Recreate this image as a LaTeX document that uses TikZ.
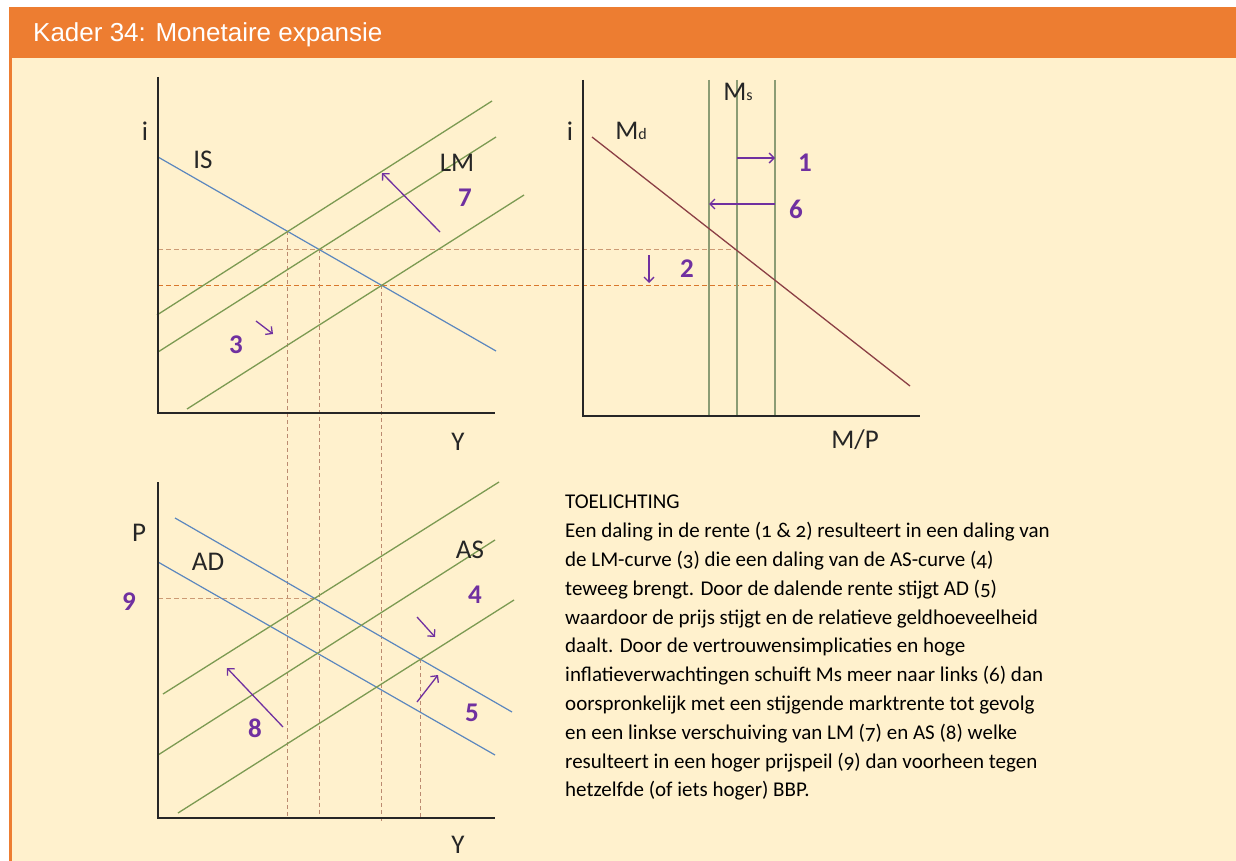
\documentclass[tikz,border=0pt]{standalone}
\usepackage{fontspec}
\setmainfont{Carlito}
\newfontfamily\titlefont{Liberation Sans}
\newfontfamily\bodyfont[Numbers=OldStyle]{Carlito}
\usetikzlibrary{arrows.meta}
\definecolor{hdr}{HTML}{ED7D31}
\definecolor{cream}{HTML}{FFF1CD}
\definecolor{purp}{HTML}{7030A0}
\definecolor{bluel}{HTML}{5B87BE}
\definecolor{greenl}{HTML}{7C9A52}
\definecolor{msl}{HTML}{8C9C74}
\definecolor{mdl}{HTML}{8B3F45}
\definecolor{dashA}{HTML}{CC9A74}
\definecolor{dashB}{HTML}{D9772C}
\definecolor{dashV}{HTML}{BB8A70}
\definecolor{axc}{HTML}{262626}
\tikzset{
  axis/.style={draw=axc, line width=1.8pt},
  isline/.style={draw=bluel, line width=1.2pt},
  lmline/.style={draw=greenl, line width=1.3pt},
  msline/.style={draw=msl, line width=1.3pt},
  mdline/.style={draw=mdl, line width=1.3pt},
  dashh/.style={draw=dashA, line width=1.3pt, dash pattern=on 5pt off 3pt},
  dashh2/.style={draw=dashB, line width=1.5pt, dash pattern=on 5pt off 3pt},
  dashv/.style={draw=dashV, line width=1.2pt, dash pattern=on 4pt off 3pt},
  parrow/.style={draw=purp, line width=1.3pt, -{Straight Barb[length=5pt,width=10pt]}},
  lbl/.style={font=\fontsize{27}{27}\selectfont, text=axc, inner sep=0pt},
  num/.style={font=\fontsize{27}{27}\selectfont\bfseries, text=purp, inner sep=0pt},
}
\begin{document}
\begin{tikzpicture}[x=1pt,y=-1pt]
\useasboundingbox (0,0) rectangle (1236,861);
% frame
\fill[white] (0,0) rectangle (1236,861);
\fill[cream] (9,58) rectangle (1236,861);
\fill[hdr] (9,7) rectangle (1236,58);
\fill[hdr] (9,58) rectangle (12,861);
\node[anchor=west, inner sep=0pt, text=white, font=\titlefont\fontsize{26}{26}\selectfont] (title) at (33,35) {Kader 34: Monetaire expansie};

% ---------- top-left IS-LM ----------
\coordinate (ao1) at (158,413);
\coordinate (ay1) at (158,77);
\coordinate (ax1) at (495,413);
\coordinate (isA) at (158,157);  \coordinate (isB) at (496,351);
\coordinate (lm1A) at (157,315); \coordinate (lm1B) at (492,101);
\coordinate (lm2A) at (158,352); \coordinate (lm2B) at (496,137);
\coordinate (lm3A) at (187,409); \coordinate (lm3B) at (524,195);
\coordinate (e1) at (intersection of isA--isB and lm1A--lm1B);
\coordinate (e2) at (intersection of isA--isB and lm2A--lm2B);
\coordinate (e3) at (intersection of isA--isB and lm3A--lm3B);

% ---------- top-right money market ----------
\coordinate (ao2) at (583,416);
\coordinate (ay2) at (583,80);
\coordinate (ax2) at (920,416);
\coordinate (ms1T) at (709,80); \coordinate (ms1B) at (709,416);
\coordinate (ms2T) at (737,80); \coordinate (ms2B) at (737,416);
\coordinate (ms3T) at (775,80); \coordinate (ms3B) at (775,416);
\coordinate (mdA) at (592,137); \coordinate (mdB) at (910,386);

% ---------- bottom AD-AS ----------
\coordinate (ao3) at (158,818);
\coordinate (ay3) at (158,482);
\coordinate (ax3) at (495,818);
\coordinate (ad1A) at (175,518); \coordinate (ad1B) at (512,712);
\coordinate (ad0A) at (158,562); \coordinate (ad0B) at (495,755);
\coordinate (as1A) at (163,694); \coordinate (as1B) at (499,482);
\coordinate (as2A) at (158,755); \coordinate (as2B) at (495,540);
\coordinate (as3A) at (178,813); \coordinate (as3B) at (514,600);
\coordinate (f9) at (intersection of ad1A--ad1B and as1A--as1B);
\coordinate (f5) at (intersection of ad1A--ad1B and as3A--as3B);

% dashed guide lines
\draw[dashh] (ay1 |- e2) -- (ms2T |- e2);
\draw[dashh2] (ay1 |- e3) -- (ms3T |- e3);
\draw[dashv] (e1) -- (e1 |- ao3);
\draw[dashv] (e2) -- (e2 |- ao3);
\draw[dashv] (e3) -- ([yshift=-6pt]e3 |- ao3);
\draw[dashv] (f5) -- (f5 |- ao3);
\draw[dashh] (ay3 |- f9) -- (f9);

% curves top-left
\draw[isline] (isA) -- (isB);
\draw[lmline] (lm1A) -- (lm1B);
\draw[lmline] (lm2A) -- (lm2B);
\draw[lmline] (lm3A) -- (lm3B);
\draw[axis] (ay1) -- (ao1) -- (ax1);

% curves top-right
\draw[msline] (ms1T) -- (ms1B);
\draw[msline] (ms2T) -- (ms2B);
\draw[msline] (ms3T) -- (ms3B);
\draw[mdline] (mdA) -- (mdB);
\draw[axis] (ay2) -- (ao2) -- (ax2);

% curves bottom
\draw[isline] (ad1A) -- (ad1B);
\draw[isline] (ad0A) -- (ad0B);
\draw[lmline] (as1A) -- (as1B);
\draw[lmline] (as2A) -- (as2B);
\draw[lmline] (as3A) -- (as3B);
\draw[axis] (ay3) -- (ao3) -- (ax3);

% arrows
\coordinate (a7s) at (440,232); \coordinate (a7e) at (382,173);
\coordinate (a3s) at (256,321); \coordinate (a3e) at (273,334);
\coordinate (a1s) at (737,158); \coordinate (a1e) at (775,158);
\coordinate (a6s) at (775,204); \coordinate (a6e) at (709,204);
\coordinate (a2s) at (649,255); \coordinate (a2e) at (649,283);
\coordinate (a8s) at (283,727); \coordinate (a8e) at (227,668);
\coordinate (a4s) at (417,617); \coordinate (a4e) at (435,637);
\coordinate (a5s) at (417,702); \coordinate (a5e) at (438,675);
\draw[parrow] (a7s) -- (a7e);
\draw[parrow] (a3s) -- (a3e);
\draw[parrow] (a1s) -- (a1e);
\draw[parrow] (a6s) -- (a6e);
\draw[parrow] (a2s) -- (a2e);
\draw[parrow] (a8s) -- (a8e);
\draw[parrow] (a4s) -- (a4e);
\draw[parrow] (a5s) -- (a5e);

% labels top-left
\node[lbl] (li1) at (145,131) {i};
\node[lbl] (lIS) at (203,160) {IS};
\node[lbl] (lLM) at (457,163) {LM};
\node[num] (n7) at (465,198) {7};
\node[num] (n3) at (236,345) {3};
\node[lbl] (lY1) at (458,442) {Y};
% labels top-right
\node[lbl] (li2) at (570,131) {i};
\node[lbl] (lMd) at (631,131) {M{\fontsize{16}{16}\selectfont d}};
\node[lbl] (lMs) at (738,92) {M{\fontsize{16}{16}\selectfont s}};
\node[num] (n1) at (805,163) {1};
\node[num] (n6) at (796,209) {6};
\node[num] (n2) at (687,269) {2};
\node[lbl] (lMP) at (855,440) {M/P};
% labels bottom
\node[lbl] (lP) at (139,533) {P};
\node[lbl] (lAD) at (208,562) {AD};
\node[lbl] (lAS) at (470,550) {AS};
\node[num] (n4) at (475,595) {4};
\node[num] (n5) at (472,713) {5};
\node[num] (n8) at (255,728) {8};
\node[num] (n9) at (129,602) {9};
\node[lbl] (lY2) at (458,845) {Y};

% explanation text
\node[anchor=north west, inner sep=0pt, align=left, text=black,
      font=\bodyfont\fontsize{21}{28.8}\selectfont] (txt) at (565,495)
{TOELICHTING\\
Een daling in de rente (1 \& 2) resulteert in een daling van\\
de LM-curve (3) die een daling van de AS-curve (4)\\
teweeg brengt. Door de dalende rente stijgt AD (5)\\
waardoor\ de prijs stijgt en de relatieve geldhoeveelheid\\
daalt. Door de vertrouwensimplicaties\ en hoge\\
inflatieverwachtingen schuift Ms meer naar links (6) dan\\
oorspronkelijk\ met een stijgende marktrente tot gevolg\\
en een linkse verschuiving van LM (7) en AS (8) welke\\
resulteert in een hoger prijspeil (9) dan voorheen tegen\\
hetzelfde (of iets hoger) BBP.};
\end{tikzpicture}
\end{document}
